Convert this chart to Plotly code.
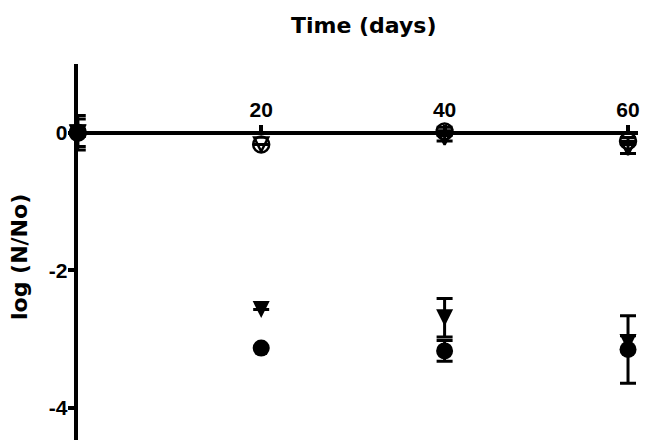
import plotly.graph_objects as go

# ---- data ----
days = [0, 20, 40, 60]

open_circle = [0.0, -0.17, 0.02, -0.12]
open_circle_err = [0.05, None, 0.06, 0.05]

open_tri = [0.0, -0.17, -0.07, -0.22]
open_tri_err = [0.05, None, 0.05, 0.08]

filled_circle = [0.0, -3.13, -3.17, -3.15]
filled_circle_err = [0.25, None, 0.15, 0.49]

filled_tri = [0.0, -2.57, -2.69, -3.05]
filled_tri_err = [0.2, None, 0.28, 0.1]

x_ticks = [20, 40, 60]
y_ticks = [0, -2, -4]
y_tick_text = ["0", "-2", "-4"]

W, H = 646, 440
X_RANGE = [0, 61.09]
Y_RANGE = [-4.4655, 1.0]
X_DOMAIN = [78 / W, 640 / W]
Y_DOMAIN = [0, 376 / H]

TICK_FONT = dict(family="Arial, Liberation Sans, sans-serif", size=21, color="black", weight="bold")
TITLE_FONT = dict(family="DejaVu Sans, sans-serif", size=22, color="black", weight="bold")


def err(vals):
    return dict(type="data", array=vals, visible=True, color="black", thickness=3, width=8)


fig = go.Figure()

series = [
    (filled_circle, filled_circle_err, dict(symbol="circle", size=17, line=dict(width=0))),
    (filled_tri, filled_tri_err, dict(symbol="arrow-down", size=17, standoff=8.5, line=dict(width=0))),
    (open_circle, open_circle_err, dict(symbol="circle-open", size=16, line=dict(width=2.5))),
    (open_tri, open_tri_err, dict(symbol="arrow-down-open", size=14, standoff=7, line=dict(width=2.5))),
]
for ys, es, mk in series:
    mk["color"] = "black"
    mk["line"]["color"] = "black"
    fig.add_trace(go.Scatter(
        x=days, y=ys, mode="markers",
        marker=mk,
        error_y=err(es),
        cliponaxis=False,
        showlegend=False,
    ))

# paper position of y = 0 for the x axis line
y0_pos = Y_DOMAIN[0] + (Y_DOMAIN[1] - Y_DOMAIN[0]) * (0 - Y_RANGE[0]) / (Y_RANGE[1] - Y_RANGE[0])

fig.update_layout(
    width=W, height=H,
    margin=dict(l=0, r=0, t=0, b=0),
    paper_bgcolor="white", plot_bgcolor="white",
    xaxis=dict(
        domain=X_DOMAIN, range=X_RANGE,
        anchor="free", position=y0_pos, side="top",
        showline=True, linecolor="black", linewidth=4,
        ticks="outside", ticklen=6, tickwidth=4, tickcolor="black",
        tickvals=x_ticks, tickfont=TICK_FONT, ticklabelstandoff=-1,
        showgrid=False, zeroline=False,
    ),
    yaxis=dict(
        domain=Y_DOMAIN, range=Y_RANGE,
        anchor="x", side="left",
        showline=True, linecolor="black", linewidth=4,
        ticks="outside", ticklen=6, tickwidth=4, tickcolor="black",
        tickvals=y_ticks, ticktext=y_tick_text, tickfont=TICK_FONT, ticklabelstandoff=-4,
        showgrid=False, zeroline=False,
    ),
    annotations=[
        dict(text="Time (days)", xref="paper", yref="paper",
             x=365 / W, y=1 - 26 / H, xanchor="center", yanchor="middle",
             showarrow=False, font=TITLE_FONT),
        dict(text="log (N/No)", xref="paper", yref="paper",
             x=19 / W, y=1 - 257 / H, xanchor="center", yanchor="middle",
             textangle=-90, showarrow=False, font=TITLE_FONT),
    ],
)

fig.write_html(
    "out.html",
    config={"displayModeBar": False},
    post_script="document.body.style.margin='0';document.body.style.padding='0';",
)
